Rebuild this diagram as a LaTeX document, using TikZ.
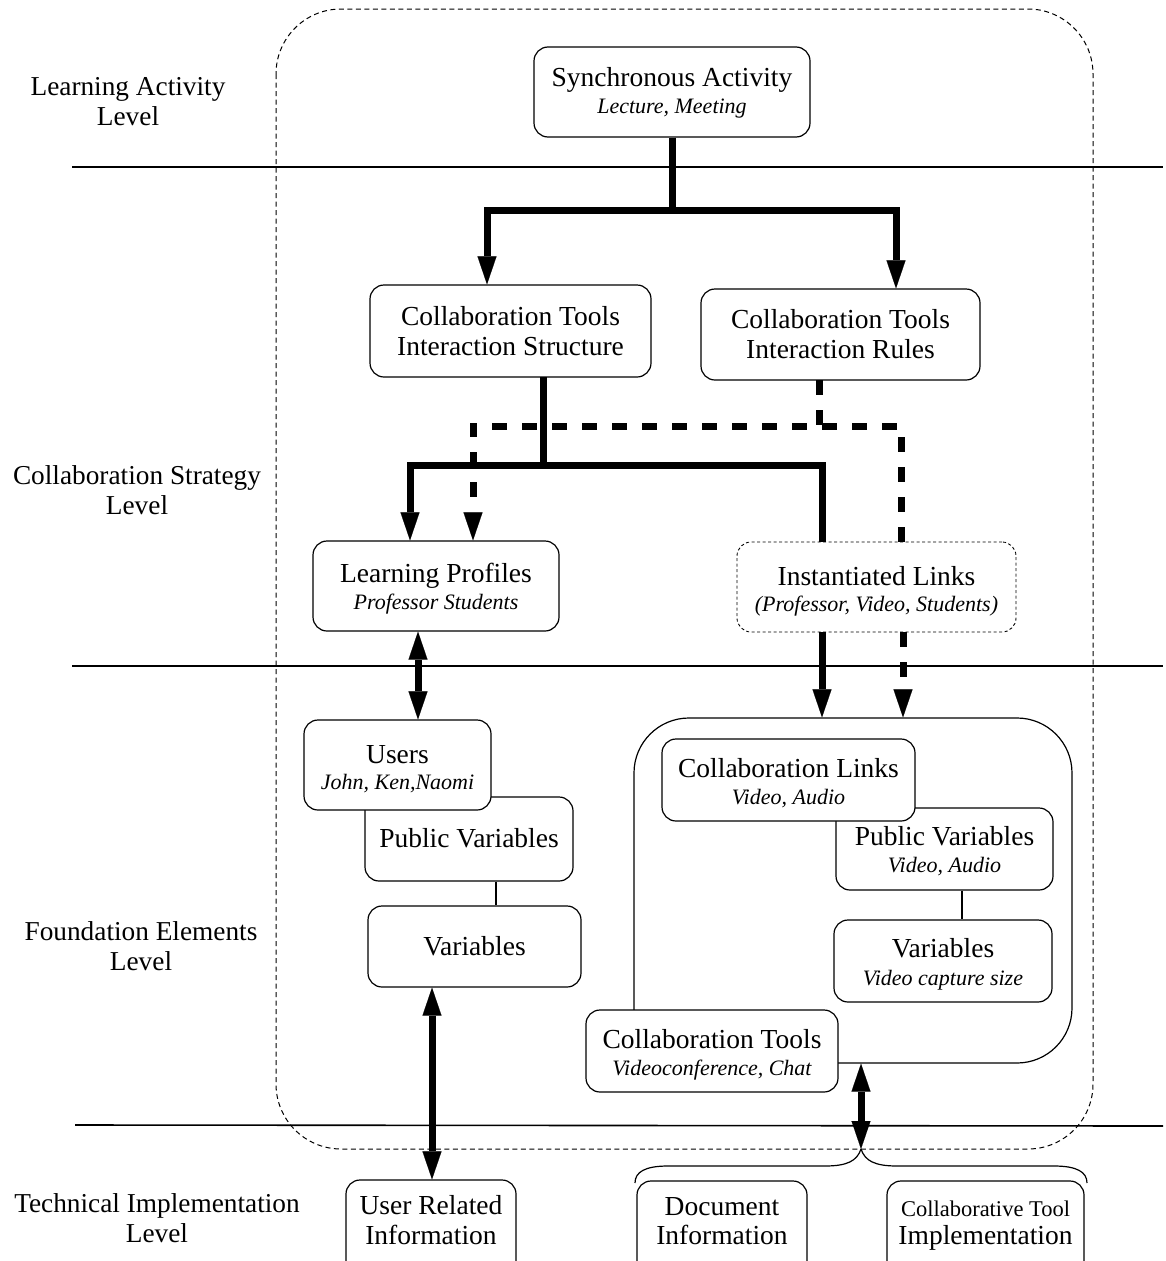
\documentclass[tikz,border=0pt]{standalone}
\usepackage{fontspec}
\setmainfont{Liberation Serif}
\usetikzlibrary{arrows.meta}
\tikzset{bigT/.tip={Triangle[length=28pt,width=19pt,line width=0.1pt]}}
\begin{document}
\begin{tikzpicture}[x=1pt,y=-1pt,
 box/.style={draw, line width=1.2pt, rounded corners=14pt, fill=white, inner sep=0pt},
 mt/.style={font=\fontsize{27.5}{31}\selectfont, inner sep=0pt, text height=18pt, text depth=5.5pt, yshift=-2.5pt},
 it/.style={font=\itshape\fontsize{22}{26}\selectfont, inner sep=0pt, text height=14pt, text depth=4.5pt, yshift=-2.5pt},
 lvl/.style={font=\fontsize{27.3}{30}\selectfont, align=center, inner sep=0pt},
 thk/.style={line width=7pt},
 dsh/.style={line width=7pt, dash pattern=on 15pt off 15pt},
 thin/.style={line width=1.2pt},
 lvline/.style={line width=1.6pt}]
\useasboundingbox (0,0) rectangle (1166,1261);
\clip (0,0) rectangle (1166,1261);
\fill[white] (0,0) rectangle (1166,1261);

% outer dashed region
\draw[line width=1pt, dash pattern=on 5pt off 3.5pt, rounded corners=65pt] (276,9) rectangle (1093,1149);

% level lines
\draw[lvline] (72,167) -- (1163,167);
\draw[lvline] (72,666) -- (1163,666);
\draw[lvline] (75,1125) -- (1163,1126);

% level labels
\node[lvl] (l1) at (128,102) {Learning Activity\\Level};
\node[lvl] (l2) at (137,490) {Collaboration Strategy\\Level};
\node[lvl] (l3) at (141,946) {Foundation Elements\\Level};
\node[lvl] (l4) at (157,1218) {Technical Implementation\\Level};

% top box
\node[box, minimum width=276pt, minimum height=90pt] (sa) at (672,92) {};
\node[mt] (sa1) at (672,78) {Synchronous Activity};
\node[it] (sa2) at (672,106) {Lecture, Meeting};

% strategy level boxes
\node[box, minimum width=281pt, minimum height=92pt] (cts) at (510.5,331) {};
\node[mt] (cts1) at (510.5,317) {Collaboration Tools};
\node[mt] (cts2) at (510.5,347) {Interaction Structure};

\node[box, minimum width=279pt, minimum height=91pt] (ctr) at (840.5,334.5) {};
\node[mt] (ctr1) at (840.5,320) {Collaboration Tools};
\node[mt] (ctr2) at (840.5,350) {Interaction Rules};

\node[box, minimum width=246pt, minimum height=90pt] (lp) at (436,586) {};
\node[mt] (lp1) at (436,574) {Learning Profiles};
\node[it] (lp2) at (436,602) {Professor Students};

\node[box, line width=0.9pt, dash pattern=on 3pt off 2.5pt, minimum width=279pt, minimum height=90pt] (il) at (876.5,587) {};
\node[mt] (il1) at (876.5,577) {Instantiated Links};
\node[it] (il2) at (876.5,604) {(Professor, Video, Students)};

% foundation left
\node[box, minimum width=208pt, minimum height=84pt] (pvl) at (469,839) {};
\node[mt] (pvl1) at (469,839) {Public Variables};
\node[box, minimum width=187pt, minimum height=90pt] (users) at (397.5,765) {};
\node[mt] (users1) at (397.5,755) {Users};
\node[it] (users2) at (397.5,782) {John, Ken,Naomi};
\node[box, minimum width=213pt, minimum height=81pt] (varl) at (474.5,946.5) {};
\node[mt] (varl1) at (474.5,947) {Variables};

% foundation right container
\node[draw, thin, rounded corners=55pt, minimum width=438pt, minimum height=345pt, inner sep=0pt] (cont) at (853,890.5) {};
\node[box, minimum width=217pt, minimum height=82pt] (pvr) at (944.5,849) {};
\node[mt] (pvr1) at (944.5,837) {Public Variables};
\node[it] (pvr2) at (944.5,865) {Video, Audio};
\node[box, minimum width=253pt, minimum height=82pt] (cl) at (788.5,780) {};
\node[mt] (cl1) at (788.5,769) {Collaboration Links};
\node[it] (cl2) at (788.5,797) {Video, Audio};
\node[box, minimum width=218pt, minimum height=82pt] (varr) at (943,961) {};
\node[mt] (varr1) at (943,949) {Variables};
\node[it] (varr2) at (943,978) {Video capture size};
\node[box, minimum width=252pt, minimum height=82pt] (ct) at (712,1051) {};
\node[mt] (ct1) at (712,1040) {Collaboration Tools};
\node[it] (ct2) at (712,1068) {Videoconference, Chat};

% technical level boxes
\node[box, minimum width=170pt, minimum height=110pt] (uri) at (431,1235) {};
\node[mt] (uri1) at (431,1206) {User Related};
\node[mt] (uri2) at (431,1236) {Information};
\node[box, minimum width=170pt, minimum height=110pt] (doc) at (722,1236) {};
\node[mt] (doc1) at (722,1207) {Document};
\node[mt] (doc2) at (722,1236) {Information};
\node[box, minimum width=197pt, minimum height=110pt] (cti) at (985.5,1236) {};
\node[mt, font=\fontsize{22.5}{26}\selectfont] (cti1) at (985.5,1208) {Collaborative Tool};
\node[mt] (cti2) at (985.5,1236) {Implementation};

% connectors: activity -> strategy
\coordinate (b1) at (487,210);
\coordinate (b2) at (896,210);
\draw[thk,-bigT] (sa.south) |- (b1) -- (b1 |- cts.north);
\draw[thk,-bigT] (sa.south) |- (b2) -- (b2 |- ctr.north);

% structure -> profiles / links
\coordinate (cs) at (543,377);
\coordinate (c1) at (410,465);
\coordinate (c2) at (822,465);
\draw[thk] (cs) -- (cs |- c1);
\draw[thk,bigT-] (c1 |- lp.north) -- (c1) -- (c2) -- (c2 |- il.north);

% rules (dashed)
\coordinate (d0) at (819,380);
\coordinate (d1) at (473,426);
\coordinate (d2) at (901,426);
\draw[dsh] (d0) -- (d0 |- d1);
\draw[dsh,-bigT] (d2 |- il.north) -- (d2) -- (d1) -- (d1 |- lp.north);

% links -> container
\coordinate (e1) at (822,632);
\coordinate (e2) at (903,632);
\draw[thk,-bigT] (e1) -- (e1 |- cont.north);
\draw[dsh,-bigT] (e2) -- (e2 |- cont.north);

% profiles <-> users
\coordinate (f) at (418,0);
\draw[thk,bigT-bigT] (f |- lp.south) -- (f |- users.north);

% thin links
\coordinate (g) at (496,0);
\draw[thin] (g |- pvl.south) -- (g |- varl.north);
\coordinate (k) at (962,0);
\draw[thin] (k |- pvr.south) -- (k |- varr.north);

% variables <-> user related info
\coordinate (h) at (432,0);
\draw[thk,bigT-bigT] (h |- varl.south) -- (h |- uri.north);

% container <-> brace
\coordinate (bt) at (861,1149);
\coordinate (m) at (861,0);
\draw[thk,bigT-bigT] (m |- cont.south) -- (bt);

% brace
\draw[thin] (bt) .. controls (857,1161) and (847,1166) .. (825,1166) -- (668,1166) .. controls (645,1166) and (635,1172) .. (635,1183);
\draw[thin] (bt) .. controls (865,1161) and (875,1166) .. (897,1166) -- (1054,1166) .. controls (1077,1166) and (1087,1172) .. (1087,1183);
\end{tikzpicture}
\end{document}
